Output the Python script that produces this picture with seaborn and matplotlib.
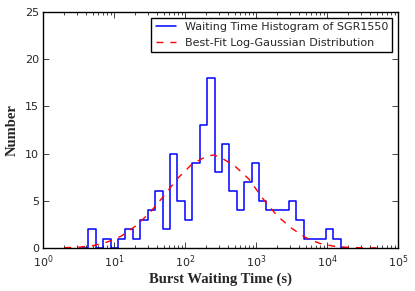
import numpy as np
import pandas as pd
import matplotlib
matplotlib.use('Agg')
import matplotlib.pyplot as plt
from matplotlib.lines import Line2D
from matplotlib.ticker import LogLocator, NullFormatter, MultipleLocator
import seaborn as sns

# waiting-time histogram: bin edges in log10(seconds), counts per bin
log_edges = [0.533, 0.638, 0.743, 0.847, 0.952, 1.056, 1.161, 1.266, 1.370,
             1.475, 1.579, 1.684, 1.789, 1.893, 1.998, 2.102, 2.207, 2.312,
             2.416, 2.521, 2.625, 2.730, 2.835, 2.939, 3.044, 3.148, 3.253,
             3.358, 3.462, 3.567, 3.671, 3.776, 3.881, 3.985, 4.090, 4.194,
             4.299]
counts = [0, 2, 0, 1, 0, 1, 2, 1, 3, 4, 6, 2, 10, 5, 3, 9, 13, 18,
          8, 11, 6, 4, 7, 9, 5, 4, 4, 4, 5, 3, 1, 1, 1, 2, 1, 0]

# best-fit log-gaussian curve
fit_log_t = [0.3, 0.5, 0.7, 0.9, 1.1, 1.3, 1.5, 1.7, 1.9, 2.1, 2.3, 2.4,
             2.5, 2.7, 2.9, 3.1, 3.3, 3.5, 3.7, 3.9, 4.1, 4.3, 4.5, 4.7]
fit_number = [0.03, 0.08, 0.24, 0.62, 1.25, 2.3, 3.7, 5.5, 7.4, 8.9, 9.7, 9.85,
              9.6, 8.7, 7.3, 5.2, 3.4, 2.1, 1.1, 0.48, 0.18, 0.06, 0.02, 0.005]

hist_label = 'Waiting Time Histogram of SGR1550'
fit_label = 'Best-Fit Log-Gaussian Distribution'

sns.set_style('ticks')
plt.rcParams.update({
    'font.family': 'DejaVu Sans',
    'font.size': 8,
    'axes.edgecolor': 'black',
    'axes.linewidth': 1.0,
    'xtick.direction': 'in',
    'ytick.direction': 'in',
    'xtick.top': True,
    'ytick.right': True,
    'xtick.major.size': 4,
    'ytick.major.size': 4,
    'xtick.minor.size': 2,
    'xtick.major.width': 0.6,
    'ytick.major.width': 0.6,
    'xtick.minor.width': 0.6,
    'xtick.labelsize': 8,
    'ytick.labelsize': 8,
    'xtick.major.pad': 4,
    'ytick.major.pad': 3,
})

edges = [10 ** e for e in log_edges]
centers = [np.sqrt(a * b) for a, b in zip(edges[:-1], edges[1:])]
hist_df = pd.DataFrame({'t': centers, 'n': counts})
fit_df = pd.DataFrame({'t': [10 ** v for v in fit_log_t], 'n': fit_number})

fig, ax = plt.subplots(figsize=(4.15, 2.91), dpi=100)
fig.subplots_adjust(left=0.1036, right=0.959, top=0.9588, bottom=0.1478)

sns.histplot(data=hist_df, x='t', weights='n', bins=edges, element='step',
             fill=False, color='blue', linewidth=1.1, ax=ax)
sns.lineplot(data=fit_df, x='t', y='n', color='red', dashes=False,
             linewidth=1.0, ax=ax)
ax.lines[-1].set_dashes((5, 5))

ax.set_xscale('log')
ax.set_xlim(1, 1e5)
ax.set_ylim(0, 25)
ax.xaxis.set_major_locator(LogLocator(base=10, numticks=10))
ax.xaxis.set_minor_locator(LogLocator(base=10, subs=np.arange(2, 10), numticks=20))
ax.xaxis.set_minor_formatter(NullFormatter())
ax.yaxis.set_major_locator(MultipleLocator(5))

ax.set_xlabel('Burst Waiting Time (s)', family='Liberation Serif',
              fontweight='bold', fontsize=10.5, labelpad=2)
ax.set_ylabel('Number', family='Liberation Serif', fontweight='bold',
              fontsize=10.5, labelpad=4)

handles = [Line2D([], [], color='blue', lw=1.1),
           Line2D([], [], color='red', lw=1.0, dashes=(5, 5))]
leg = ax.legend(handles, [hist_label, fit_label], loc='upper right',
                fontsize=8, fancybox=False, framealpha=1, edgecolor='black',
                handlelength=1.8, borderaxespad=0.5)
leg.get_frame().set_linewidth(1.0)

fig.savefig('out.png', dpi=100)
